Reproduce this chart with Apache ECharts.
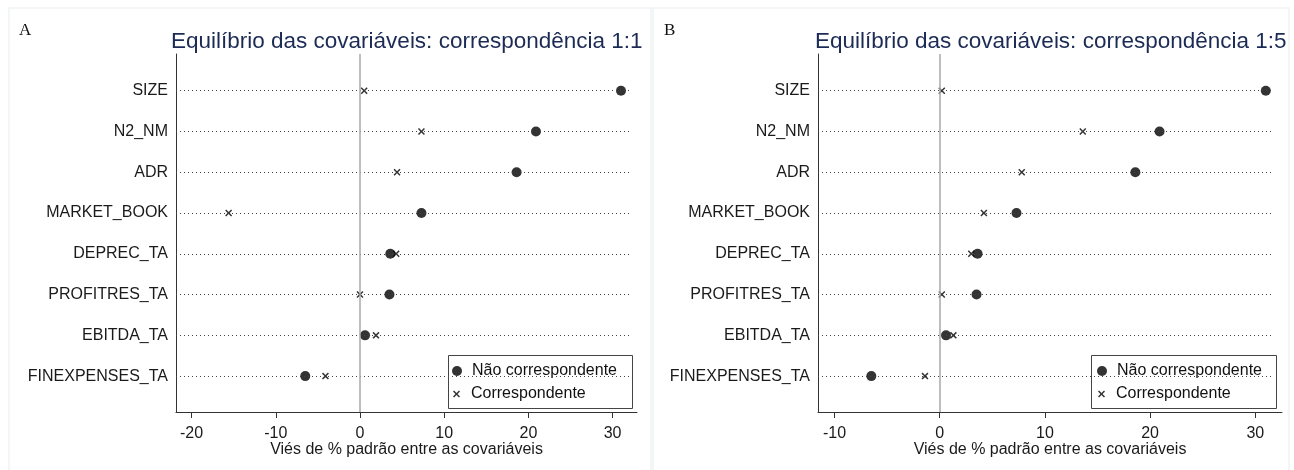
<!doctype html>
<html lang="pt">
<head>
    <meta charset="UTF-8">
    <title>Equilíbrio das covariáveis</title>
    <style>
        html, body { margin: 0; padding: 0; background: #fff; }
        #main { width: 1294px; height: 470px; }
    </style>
</head>
<body>
<div id="main"></div>
<script type="text/javascript" src="https://cdn.jsdelivr.net/npm/echarts@6/dist/echarts.min.js"></script>
<script type="text/javascript">
    // dados
    var categories = ['SIZE', 'N2_NM', 'ADR', 'MARKET_BOOK', 'DEPREC_TA', 'PROFITRES_TA', 'EBITDA_TA', 'FINEXPENSES_TA'];
    var naoCorresp = [31.0, 20.9, 18.6, 7.3, 3.6, 3.5, 0.6, -6.5];
    var corresp11 = [0.5, 7.3, 4.4, -15.6, 4.3, 0.0, 1.9, -4.1];
    var corresp15 = [0.2, 13.6, 7.8, 4.2, 3.0, 0.2, 1.3, -1.4];
    var ticksA = [-20, -10, 0, 10, 20, 30];
    var ticksB = [-10, 0, 10, 20, 30];
    var rowIdx = [0, 1, 2, 3, 4, 5, 6, 7];

    var font = 'Liberation Sans, Arial, sans-serif';
    var xPath = 'path://M1.5,0 L5,3.5 L8.5,0 L10,1.5 L6.5,5 L10,8.5 L8.5,10 L5,6.5 L1.5,10 L0,8.5 L3.5,5 L0,1.5 Z';

    function pts(vals) {
        return vals.map(function (v, i) { return [v, i]; });
    }

    function xAxisCfg(idx, min, max, ticks) {
        return {
            type: 'value', gridIndex: idx, min: min, max: max,
            name: 'Viés de % padrão entre as covariáveis',
            nameLocation: 'middle', nameGap: 30, nameMoveOverlap: false,
            nameTextStyle: {fontFamily: font, fontSize: 16, color: '#1a1a1a'},
            axisLine: {show: true, onZero: false, lineStyle: {color: '#333', width: 1}},
            axisTick: {show: true, length: 6, customValues: ticks, lineStyle: {color: '#333'}},
            axisLabel: {customValues: ticks, margin: 14, fontFamily: font, fontSize: 16, color: '#1a1a1a'},
            splitLine: {show: false}
        };
    }

    function yAxisCfg(idx) {
        return {
            type: 'value', gridIndex: idx, inverse: true, min: -0.9, max: 7.88,
            axisLine: {show: true, onZero: false, lineStyle: {color: '#333', width: 1}},
            axisTick: {show: false},
            axisLabel: {
                customValues: rowIdx, margin: 8, fontFamily: font, fontSize: 16, color: '#1a1a1a',
                formatter: function (v) { return categories[v]; }
            },
            splitLine: {show: false}
        };
    }

    function guideSeries(idx, lineStart, lineEnd) {
        var rows = rowIdx.map(function (i) {
            return [{xAxis: lineStart, yAxis: i}, {xAxis: lineEnd, yAxis: i}];
        });
        rows.push({xAxis: 0, lineStyle: {type: 'solid', color: '#a8a8a8', width: 1.5}});
        return {
            type: 'scatter', xAxisIndex: idx, yAxisIndex: idx, data: [], silent: true,
            markLine: {
                silent: true, symbol: 'none', label: {show: false}, animation: false,
                lineStyle: {type: [1, 3], color: '#444', width: 1},
                data: rows
            }
        };
    }

    function legendPair(left, top) {
        return [{
            left: left, top: top, padding: 0, itemWidth: 20, itemHeight: 10, symbolKeepAspect: true,
            textStyle: {fontFamily: font, fontSize: 16, color: '#111'},
            data: [{name: 'Não correspondente', icon: 'circle'}]
        }, {
            left: left + 1, top: top + 23, padding: 0, itemWidth: 19, itemHeight: 7, symbolKeepAspect: true,
            textStyle: {fontFamily: font, fontSize: 16, color: '#111'},
            data: [{name: 'Correspondente', icon: xPath}]
        }];
    }

    var myChart = echarts.init(document.getElementById('main'));
    var option = {
        backgroundColor: '#fff',
        animation: false,
        title: [
            {text: 'Equilíbrio das covariáveis: correspondência 1:1', left: 166, top: 25,
                textStyle: {fontFamily: font, fontSize: 22.5, fontWeight: 'normal', color: '#1c2b55'}},
            {text: 'Equilíbrio das covariáveis: correspondência 1:5', left: 810, top: 25,
                textStyle: {fontFamily: font, fontSize: 22.5, fontWeight: 'normal', color: '#1c2b55'}}
        ],
        grid: [
            {left: 176, top: 54, width: 461, height: 358},
            {left: 818, top: 54, width: 464, height: 358}
        ],
        xAxis: [
            xAxisCfg(0, -21.85, 32.9, ticksA),
            xAxisCfg(1, -11.57, 32.54, ticksB)
        ],
        yAxis: [yAxisCfg(0), yAxisCfg(1)],
        legend: legendPair(452, 363).concat(legendPair(1097, 363)),
        graphic: [
            {type: 'rect', shape: {x: 9, y: 8, width: 642, height: 470}, z: 0,
                style: {fill: 'none', stroke: '#eef3f3', lineWidth: 1.5}},
            {type: 'rect', shape: {x: 653, y: 8, width: 636, height: 470}, z: 0,
                style: {fill: 'none', stroke: '#eef3f3', lineWidth: 1.5}},
            {type: 'text', left: 19, top: 22, z: 5,
                style: {text: 'A', font: '17px "Liberation Serif", "Times New Roman", serif', fill: '#111'}},
            {type: 'text', left: 664, top: 22, z: 5,
                style: {text: 'B', font: '17px "Liberation Serif", "Times New Roman", serif', fill: '#111'}},
            {type: 'rect', shape: {x: 448.5, y: 355.5, width: 184, height: 53}, z: 3,
                style: {fill: '#fff', stroke: '#444', lineWidth: 1}},
            {type: 'rect', shape: {x: 1091.5, y: 355.5, width: 185, height: 53}, z: 3,
                style: {fill: '#fff', stroke: '#444', lineWidth: 1}}
        ],
        series: [
            guideSeries(0, -21.85, 32.0),
            {name: 'Correspondente', type: 'scatter', xAxisIndex: 0, yAxisIndex: 0,
                symbol: xPath, symbolSize: 7, itemStyle: {color: '#000'}, data: pts(corresp11)},
            {name: 'Não correspondente', type: 'scatter', xAxisIndex: 0, yAxisIndex: 0,
                symbol: 'circle', symbolSize: 10, itemStyle: {color: '#000'}, data: pts(naoCorresp)},
            guideSeries(1, -11.57, 31.7),
            {name: 'Correspondente', type: 'scatter', xAxisIndex: 1, yAxisIndex: 1,
                symbol: xPath, symbolSize: 7, itemStyle: {color: '#000'}, data: pts(corresp15)},
            {name: 'Não correspondente', type: 'scatter', xAxisIndex: 1, yAxisIndex: 1,
                symbol: 'circle', symbolSize: 10, itemStyle: {color: '#000'}, data: pts(naoCorresp)}
        ]
    };
    myChart.setOption(option);
</script>
</body>
</html>
